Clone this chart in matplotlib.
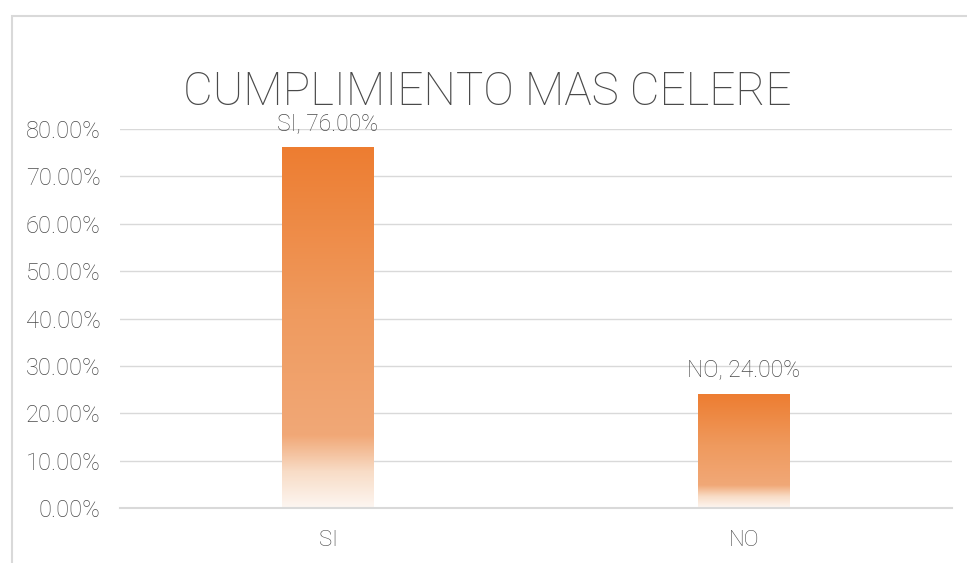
import numpy as np
import matplotlib.pyplot as plt
from matplotlib.colors import LinearSegmentedColormap
from matplotlib.patches import Rectangle

categories = ["SI", "NO"]
values = [0.76, 0.24]
labels = ["SI, 76.00%", "NO, 24.00%"]
yticks = [0.0, 0.1, 0.2, 0.3, 0.4, 0.5, 0.6, 0.7, 0.8]

font = ["Roboto", "DejaVu Sans"]
grey = "#4a4a4a"

fig = plt.figure(figsize=(9.67, 5.63), dpi=100)
fig.patch.set_facecolor("white")

# chart border box
fig.add_artist(Rectangle((12 / 967, -0.01), 1.0, 1 - 16 / 563 + 0.01,
                         transform=fig.transFigure, fill=False,
                         edgecolor="#d9d9d9", linewidth=1.5))

ax = fig.add_axes([120 / 967, 1 - 508 / 563, (952 - 120) / 967, (508 - 129) / 563])

# orange fading to white from top to bottom of each bar
cmap = LinearSegmentedColormap.from_list(
    "fade", [(0.0, "#fdf6f1"), (0.1, "#f8dcc6"), (0.2, "#f1a877"),
             (0.55, "#ef9a5e"), (1.0, "#ed7d31")])
grad = np.linspace(0, 1, 256).reshape(-1, 1)

x = np.arange(len(categories))
width = 0.22
for xi, v, lab in zip(x, values, labels):
    ax.imshow(grad, cmap=cmap, origin="lower", aspect="auto",
              extent=(xi - width / 2, xi + width / 2, 0, v), zorder=2)
    ax.annotate(lab, (xi, v), xytext=(0, 9.5), textcoords="offset points",
                ha="center", va="bottom", fontsize=16.5, color=grey,
                family=font, weight="light")

ax.set_xlim(-0.5, 1.5)
ax.set_ylim(0, 0.8)
ax.set_yticks(yticks)
ax.set_yticklabels([f"{t * 100:.2f}%" for t in yticks])
ax.set_xticks(x)
ax.set_xticklabels(categories)
for t in ax.get_xticklabels() + ax.get_yticklabels():
    t.set_family(font)
    t.set_weight("light")
    t.set_fontsize(17)
    t.set_color(grey)
for t in ax.get_xticklabels():
    t.set_fontsize(16)
ax.tick_params(length=0)
ax.tick_params(axis="x", pad=16)
ax.tick_params(axis="y", pad=14)
ax.grid(axis="y", color="#d9d9d9", linewidth=1, zorder=0)
ax.set_axisbelow(True)
for s in ["top", "right", "left"]:
    ax.spines[s].set_visible(False)
ax.spines["bottom"].set_color("#d9d9d9")
ax.spines["bottom"].set_linewidth(1.5)

fig.text(487 / 967, 1 - 92 / 563, "CUMPLIMIENTO MAS CELERE", ha="center", va="center",
         fontsize=33, color=grey, family=font, weight="light")

fig.savefig("out.png", dpi=100)
